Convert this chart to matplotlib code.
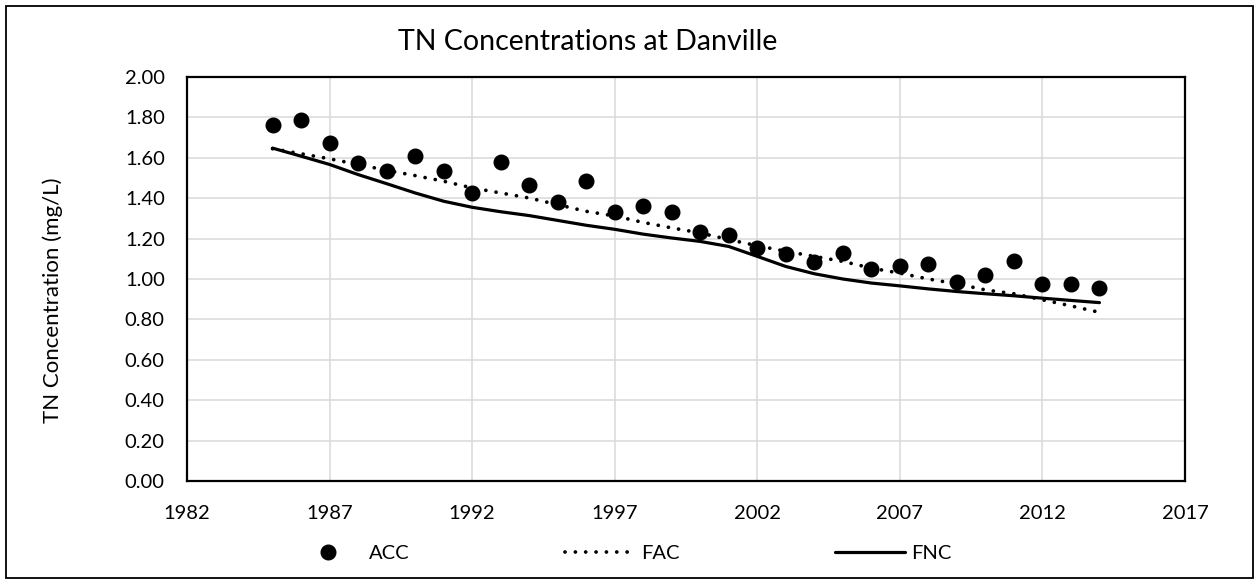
import matplotlib
matplotlib.use("Agg")
import matplotlib.pyplot as plt
from matplotlib.patches import Rectangle
from matplotlib.ticker import FormatStrFormatter

plt.rcParams['font.family'] = ['Lato', 'DejaVu Sans']

years = list(range(1985, 2015))
acc = [1.762, 1.785, 1.674, 1.575, 1.534, 1.610, 1.534, 1.426, 1.580, 1.463,
       1.382, 1.486, 1.330, 1.360, 1.332, 1.235, 1.219, 1.153, 1.125, 1.084,
       1.127, 1.051, 1.062, 1.075, 0.986, 1.021, 1.090, 0.976, 0.976, 0.956]
fac = [1.645, 1.620, 1.595, 1.567, 1.538, 1.512, 1.484, 1.451, 1.426, 1.401,
       1.368, 1.335, 1.312, 1.280, 1.253, 1.228, 1.195, 1.165, 1.137, 1.112,
       1.087, 1.054, 1.029, 1.000, 0.976, 0.946, 0.927, 0.897, 0.867, 0.835]
fnc = [1.648, 1.608, 1.567, 1.517, 1.472, 1.426, 1.385, 1.355, 1.333, 1.314,
       1.290, 1.266, 1.246, 1.222, 1.203, 1.186, 1.161, 1.112, 1.062, 1.026,
       1.000, 0.980, 0.966, 0.951, 0.938, 0.927, 0.917, 0.905, 0.894, 0.883]

title = "TN Concentrations at Danville"
ylabel = "TN Concentration (mg/L)"
series_names = ["ACC", "FAC", "FNC"]
xticks = [1982, 1987, 1992, 1997, 2002, 2007, 2012, 2017]
yticks = [0.0, 0.2, 0.4, 0.6, 0.8, 1.0, 1.2, 1.4, 1.6, 1.8, 2.0]

W, H = 1255, 579
fig = plt.figure(figsize=(W / 100, H / 100), dpi=100)
ax = fig.add_axes([187 / W, 1 - 481 / H, (1185 - 187) / W, (481 - 77) / H])

ax.plot(years, acc, linestyle='none', marker='o', markersize=10.5,
        color='black', label=series_names[0], zorder=4)
ax.plot(years, fac, color='black', linewidth=2.7, linestyle=(0, (0.01, 2.75)),
        dash_capstyle='round', label=series_names[1], zorder=3)
ax.plot(years, fnc, color='black', linewidth=2.3, linestyle='-',
        solid_capstyle='round', label=series_names[2], zorder=3)

ax.set_xlim(1982, 2017)
ax.set_ylim(0, 2.0)
ax.set_xticks(xticks)
ax.set_yticks(yticks)
ax.yaxis.set_major_formatter(FormatStrFormatter('%.2f'))
ax.tick_params(axis='both', length=0, labelsize=14.5, colors='black')
ax.tick_params(axis='y', pad=16)
ax.tick_params(axis='x', pad=17)
ax.grid(True, color='#d9d9d9', linewidth=1.1)
ax.set_axisbelow(True)
for s in ax.spines.values():
    s.set_color('black')
    s.set_linewidth(1.6)

fig.text(53 / W, 1 - 300 / H, ylabel, rotation=90, ha='center', va='center',
         fontsize=16)
fig.text(588 / W, 1 - 42 / H, title, ha='center', va='center', fontsize=20.5)

fig.legend(loc='center', bbox_to_anchor=(622 / W, 1 - 553 / H), ncol=3,
           frameon=False, fontsize=14.5, handlelength=3.5, handletextpad=0.3,
           columnspacing=7.7, borderaxespad=0, borderpad=0)

fig.patches.append(Rectangle((6 / W, 1 / H), (1253 - 6) / W, (572) / H,
                             transform=fig.transFigure, fill=False,
                             edgecolor='black', linewidth=1.3))

fig.savefig("out.png", dpi=100)
